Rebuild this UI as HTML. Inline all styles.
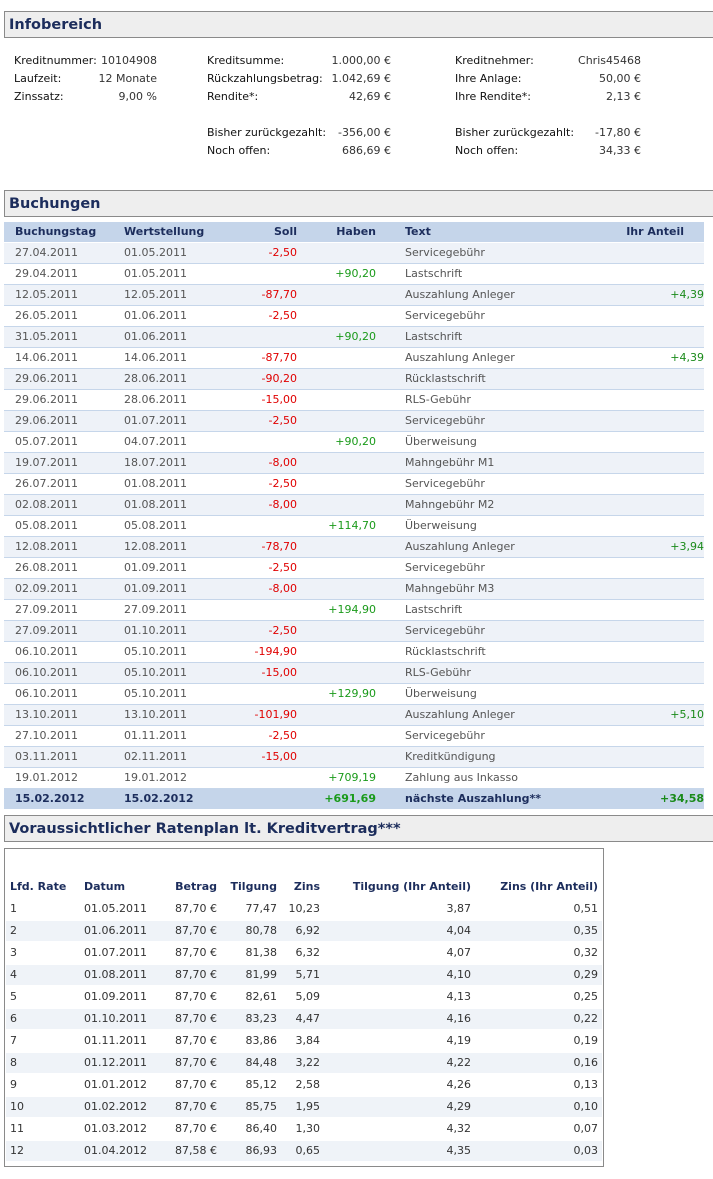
<!DOCTYPE html>
<html><head><meta charset="utf-8"><style>
body{margin:0;width:713px;height:1179px;background:#fff;font-family:"DejaVu Sans","Liberation Sans",sans-serif;font-size:11px;color:#555;position:relative;overflow:hidden}
div,span{position:absolute;white-space:nowrap}
.hd{left:4px;width:712px;height:25px;background:#eeeeee;border:1px solid #8a8a8a;border-right:none}
.hd span{left:4px;top:5px;font-size:14.5px;font-weight:bold;color:#1c2d5c}
.l{color:#111}
.v{color:#333}
.r{left:4px;width:700px;height:20px;border-bottom:1px solid #c6d6ea;line-height:20px}
.o{background:#eef2f8}
.r span{top:0}
.a{left:11px}.b{left:120px}.s{right:407px;color:#e00000}.h{right:328px;color:#1a9a1a}.t{left:401px}.i{right:0;color:#1a8a1a}
.th{background:#c5d5ea;color:#1c2d5c;font-weight:bold;border-bottom:none}
.ft{background:#c5d5ea;color:#1c2d5c;font-weight:bold;border-bottom:none}
.box{left:4px;top:848px;width:598px;height:317px;border:1px solid #8a8a8a}
.q{left:6px;width:596px;height:20px;line-height:20px;color:#333}
.q.o{background:#eff3f8}
.c1{left:4px}.c2{left:78px}.c3{right:385px}.c4{right:325px}.c5{right:282px}.c6{right:131px}.c7{right:4px}
.qh{color:#1c2d5c;font-weight:bold}
</style></head><body>
<div class="hd" style="top:11px"><span>Infobereich</span></div>
<span class="l" style="left:14px;top:54px">Kreditnummer:</span><span class="v" style="right:556px;top:54px">10104908</span>
<span class="l" style="left:14px;top:72px">Laufzeit:</span><span class="v" style="right:556px;top:72px">12 Monate</span>
<span class="l" style="left:14px;top:90px">Zinssatz:</span><span class="v" style="right:556px;top:90px">9,00 %</span>
<span class="l" style="left:207px;top:54px">Kreditsumme:</span><span class="v" style="right:322px;top:54px">1.000,00 €</span>
<span class="l" style="left:207px;top:72px">Rückzahlungsbetrag:</span><span class="v" style="right:322px;top:72px">1.042,69 €</span>
<span class="l" style="left:207px;top:90px">Rendite*:</span><span class="v" style="right:322px;top:90px">42,69 €</span>
<span class="l" style="left:207px;top:126px">Bisher zurückgezahlt:</span><span class="v" style="right:322px;top:126px">-356,00 €</span>
<span class="l" style="left:207px;top:144px">Noch offen:</span><span class="v" style="right:322px;top:144px">686,69 €</span>
<span class="l" style="left:455px;top:54px">Kreditnehmer:</span><span class="v" style="right:72px;top:54px">Chris45468</span>
<span class="l" style="left:455px;top:72px">Ihre Anlage:</span><span class="v" style="right:72px;top:72px">50,00 €</span>
<span class="l" style="left:455px;top:90px">Ihre Rendite*:</span><span class="v" style="right:72px;top:90px">2,13 €</span>
<span class="l" style="left:455px;top:126px">Bisher zurückgezahlt:</span><span class="v" style="right:72px;top:126px">-17,80 €</span>
<span class="l" style="left:455px;top:144px">Noch offen:</span><span class="v" style="right:72px;top:144px">34,33 €</span>

<div class="hd" style="top:190px"><span>Buchungen</span></div>
<div class="r th" style="top:222px"><span class="a">Buchungstag</span><span class="b">Wertstellung</span><span class="s" style="color:#1c2d5c">Soll</span><span class="h" style="color:#1c2d5c">Haben</span><span class="t">Text</span><span class="i" style="right:20px;color:#1c2d5c">Ihr Anteil</span></div>
<div class="r o" style="top:243px"><span class="a">27.04.2011</span><span class="b">01.05.2011</span><span class="s">-2,50</span><span class="t">Servicegebühr</span></div>
<div class="r" style="top:264px"><span class="a">29.04.2011</span><span class="b">01.05.2011</span><span class="h">+90,20</span><span class="t">Lastschrift</span></div>
<div class="r o" style="top:285px"><span class="a">12.05.2011</span><span class="b">12.05.2011</span><span class="s">-87,70</span><span class="t">Auszahlung Anleger</span><span class="i">+4,39</span></div>
<div class="r" style="top:306px"><span class="a">26.05.2011</span><span class="b">01.06.2011</span><span class="s">-2,50</span><span class="t">Servicegebühr</span></div>
<div class="r o" style="top:327px"><span class="a">31.05.2011</span><span class="b">01.06.2011</span><span class="h">+90,20</span><span class="t">Lastschrift</span></div>
<div class="r" style="top:348px"><span class="a">14.06.2011</span><span class="b">14.06.2011</span><span class="s">-87,70</span><span class="t">Auszahlung Anleger</span><span class="i">+4,39</span></div>
<div class="r o" style="top:369px"><span class="a">29.06.2011</span><span class="b">28.06.2011</span><span class="s">-90,20</span><span class="t">Rücklastschrift</span></div>
<div class="r" style="top:390px"><span class="a">29.06.2011</span><span class="b">28.06.2011</span><span class="s">-15,00</span><span class="t">RLS-Gebühr</span></div>
<div class="r o" style="top:411px"><span class="a">29.06.2011</span><span class="b">01.07.2011</span><span class="s">-2,50</span><span class="t">Servicegebühr</span></div>
<div class="r" style="top:432px"><span class="a">05.07.2011</span><span class="b">04.07.2011</span><span class="h">+90,20</span><span class="t">Überweisung</span></div>
<div class="r o" style="top:453px"><span class="a">19.07.2011</span><span class="b">18.07.2011</span><span class="s">-8,00</span><span class="t">Mahngebühr M1</span></div>
<div class="r" style="top:474px"><span class="a">26.07.2011</span><span class="b">01.08.2011</span><span class="s">-2,50</span><span class="t">Servicegebühr</span></div>
<div class="r o" style="top:495px"><span class="a">02.08.2011</span><span class="b">01.08.2011</span><span class="s">-8,00</span><span class="t">Mahngebühr M2</span></div>
<div class="r" style="top:516px"><span class="a">05.08.2011</span><span class="b">05.08.2011</span><span class="h">+114,70</span><span class="t">Überweisung</span></div>
<div class="r o" style="top:537px"><span class="a">12.08.2011</span><span class="b">12.08.2011</span><span class="s">-78,70</span><span class="t">Auszahlung Anleger</span><span class="i">+3,94</span></div>
<div class="r" style="top:558px"><span class="a">26.08.2011</span><span class="b">01.09.2011</span><span class="s">-2,50</span><span class="t">Servicegebühr</span></div>
<div class="r o" style="top:579px"><span class="a">02.09.2011</span><span class="b">01.09.2011</span><span class="s">-8,00</span><span class="t">Mahngebühr M3</span></div>
<div class="r" style="top:600px"><span class="a">27.09.2011</span><span class="b">27.09.2011</span><span class="h">+194,90</span><span class="t">Lastschrift</span></div>
<div class="r o" style="top:621px"><span class="a">27.09.2011</span><span class="b">01.10.2011</span><span class="s">-2,50</span><span class="t">Servicegebühr</span></div>
<div class="r" style="top:642px"><span class="a">06.10.2011</span><span class="b">05.10.2011</span><span class="s">-194,90</span><span class="t">Rücklastschrift</span></div>
<div class="r o" style="top:663px"><span class="a">06.10.2011</span><span class="b">05.10.2011</span><span class="s">-15,00</span><span class="t">RLS-Gebühr</span></div>
<div class="r" style="top:684px"><span class="a">06.10.2011</span><span class="b">05.10.2011</span><span class="h">+129,90</span><span class="t">Überweisung</span></div>
<div class="r o" style="top:705px"><span class="a">13.10.2011</span><span class="b">13.10.2011</span><span class="s">-101,90</span><span class="t">Auszahlung Anleger</span><span class="i">+5,10</span></div>
<div class="r" style="top:726px"><span class="a">27.10.2011</span><span class="b">01.11.2011</span><span class="s">-2,50</span><span class="t">Servicegebühr</span></div>
<div class="r o" style="top:747px"><span class="a">03.11.2011</span><span class="b">02.11.2011</span><span class="s">-15,00</span><span class="t">Kreditkündigung</span></div>
<div class="r" style="top:768px"><span class="a">19.01.2012</span><span class="b">19.01.2012</span><span class="h">+709,19</span><span class="t">Zahlung aus Inkasso</span></div>
<div class="r ft" style="top:789px"><span class="a">15.02.2012</span><span class="b">15.02.2012</span><span class="h">+691,69</span><span class="t">nächste Auszahlung**</span><span class="i">+34,58</span></div>

<div class="hd" style="top:815px"><span>Voraussichtlicher Ratenplan lt. Kreditvertrag***</span></div>
<div class="box"></div>
<div class="q qh" style="top:877px"><span class="c1">Lfd. Rate</span><span class="c2">Datum</span><span class="c3">Betrag</span><span class="c4">Tilgung</span><span class="c5">Zins</span><span class="c6">Tilgung (Ihr Anteil)</span><span class="c7">Zins (Ihr Anteil)</span></div>
<div class="q" style="top:899px"><span class="c1">1</span><span class="c2">01.05.2011</span><span class="c3">87,70 €</span><span class="c4">77,47</span><span class="c5">10,23</span><span class="c6">3,87</span><span class="c7">0,51</span></div>
<div class="q o" style="top:921px"><span class="c1">2</span><span class="c2">01.06.2011</span><span class="c3">87,70 €</span><span class="c4">80,78</span><span class="c5">6,92</span><span class="c6">4,04</span><span class="c7">0,35</span></div>
<div class="q" style="top:943px"><span class="c1">3</span><span class="c2">01.07.2011</span><span class="c3">87,70 €</span><span class="c4">81,38</span><span class="c5">6,32</span><span class="c6">4,07</span><span class="c7">0,32</span></div>
<div class="q o" style="top:965px"><span class="c1">4</span><span class="c2">01.08.2011</span><span class="c3">87,70 €</span><span class="c4">81,99</span><span class="c5">5,71</span><span class="c6">4,10</span><span class="c7">0,29</span></div>
<div class="q" style="top:987px"><span class="c1">5</span><span class="c2">01.09.2011</span><span class="c3">87,70 €</span><span class="c4">82,61</span><span class="c5">5,09</span><span class="c6">4,13</span><span class="c7">0,25</span></div>
<div class="q o" style="top:1009px"><span class="c1">6</span><span class="c2">01.10.2011</span><span class="c3">87,70 €</span><span class="c4">83,23</span><span class="c5">4,47</span><span class="c6">4,16</span><span class="c7">0,22</span></div>
<div class="q" style="top:1031px"><span class="c1">7</span><span class="c2">01.11.2011</span><span class="c3">87,70 €</span><span class="c4">83,86</span><span class="c5">3,84</span><span class="c6">4,19</span><span class="c7">0,19</span></div>
<div class="q o" style="top:1053px"><span class="c1">8</span><span class="c2">01.12.2011</span><span class="c3">87,70 €</span><span class="c4">84,48</span><span class="c5">3,22</span><span class="c6">4,22</span><span class="c7">0,16</span></div>
<div class="q" style="top:1075px"><span class="c1">9</span><span class="c2">01.01.2012</span><span class="c3">87,70 €</span><span class="c4">85,12</span><span class="c5">2,58</span><span class="c6">4,26</span><span class="c7">0,13</span></div>
<div class="q o" style="top:1097px"><span class="c1">10</span><span class="c2">01.02.2012</span><span class="c3">87,70 €</span><span class="c4">85,75</span><span class="c5">1,95</span><span class="c6">4,29</span><span class="c7">0,10</span></div>
<div class="q" style="top:1119px"><span class="c1">11</span><span class="c2">01.03.2012</span><span class="c3">87,70 €</span><span class="c4">86,40</span><span class="c5">1,30</span><span class="c6">4,32</span><span class="c7">0,07</span></div>
<div class="q o" style="top:1141px"><span class="c1">12</span><span class="c2">01.04.2012</span><span class="c3">87,58 €</span><span class="c4">86,93</span><span class="c5">0,65</span><span class="c6">4,35</span><span class="c7">0,03</span></div>
</body></html>
